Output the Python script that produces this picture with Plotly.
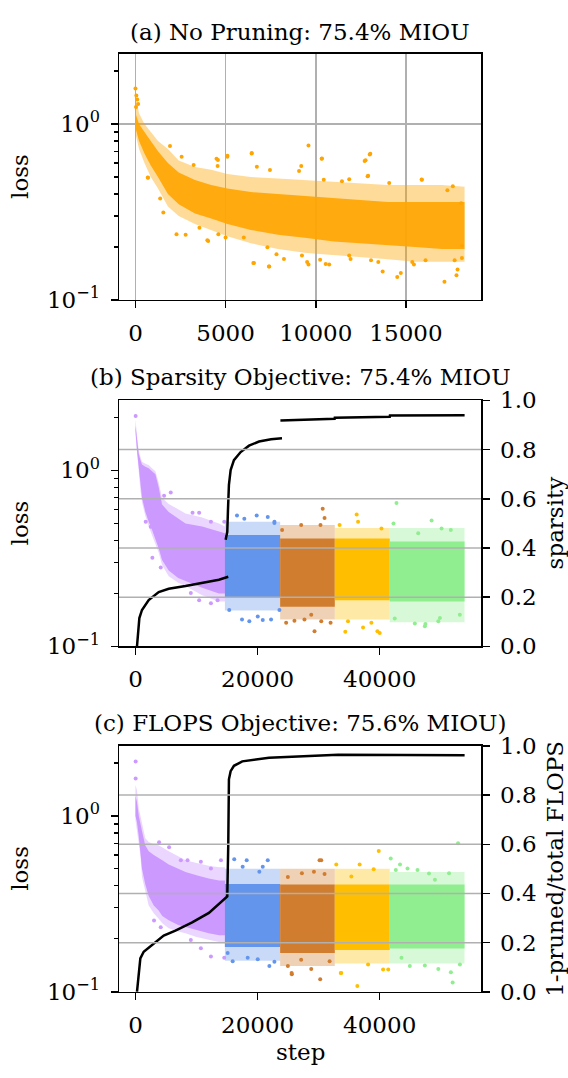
import plotly.graph_objects as go

W, H = 568, 1078
FONT = "DejaVu Serif"
FS = 23

# ------------------------------------------------------------------ data
TITLES = ["(a) No Pruning: 75.4% MIOU",
          "(b) Sparsity Objective: 75.4% MIOU",
          "(c) FLOPS Objective: 75.6% MIOU)"]
SEG_COLORS = ["#CC99FF", "#6495ED", "#D07D2F", "#FFBF00", "#90EE90"]
ORANGE = "#FFA500"

LOSS_TICKS = [0.1, 1]
LOSS_TICKTEXT = ["10<sup>\u22121</sup>", "10<sup>0</sup>"]
LOSS_MINOR = [0.2, 0.3, 0.4, 0.5, 0.6, 0.7, 0.8, 0.9, 2]
A_XTICKS = [0, 5000, 10000, 15000]
BC_XTICKS = [0, 20000, 40000]
FRAC_TICKS = [0.0, 0.2, 0.4, 0.6, 0.8, 1.0]
FRAC_GRID = [0.2, 0.4, 0.6, 0.8]

# (a) no pruning: loss cloud (dense core and sparse fringe envelopes)
A_STEP = [0, 200, 500, 850, 1250, 1800, 2400, 3300, 4200, 5100, 6400, 7900,
          9500, 11000, 12500, 14000, 15500, 17000, 18250]
A_CORE_HI = [1.15, 1.00, 0.90, 0.80, 0.70, 0.60, 0.53, 0.48, 0.45, 0.43, 0.41,
             0.40, 0.39, 0.38, 0.37, 0.36, 0.36, 0.36, 0.36]
A_CORE_LO = [0.95, 0.80, 0.68, 0.58, 0.50, 0.40, 0.35, 0.31, 0.29, 0.27, 0.25,
             0.235, 0.225, 0.215, 0.21, 0.205, 0.20, 0.195, 0.195]
A_FRNG_HI = [1.45, 1.15, 1.00, 0.90, 0.80, 0.72, 0.62, 0.57, 0.55, 0.52, 0.50,
             0.49, 0.48, 0.47, 0.46, 0.45, 0.45, 0.45, 0.44]
A_FRNG_LO = [0.88, 0.72, 0.60, 0.50, 0.43, 0.34, 0.30, 0.27, 0.25, 0.23, 0.21,
             0.195, 0.185, 0.18, 0.175, 0.17, 0.165, 0.165, 0.165]
A_OUT_STEP = [0, 50, 100, 150, 30, 4496, 5100, 6451, 9596, 10342, 12761, 13023,
              12902, 7459, 6733, 9072, 9193, 10443, 11451, 11854, 15886, 17600,
              14072, 4556, 3226, 685, 1371, 2278, 4032, 3548, 7419, 6572, 9596,
              10241, 10745, 13709, 14516, 14717, 17136, 17802, 17862, 18104,
              17700, 15443, 16088, 13064, 13467, 11854, 9233, 7822, 7318, 5000,
              4597, 6008, 17297, 18063, 18104, 1915, 2562, 4575, 5095, 6444,
              2784, 1547, 695, 3987, 6537, 7404, 10325, 12710, 12990, 12875,
              15870, 8235, 9520, 10550, 11930, 15350]
A_OUT_LOSS = [1.59, 1.45, 1.38, 1.30, 1.25, 0.634, 0.661, 0.684, 0.755, 0.636,
              0.623, 0.678, 0.508, 0.548, 0.572, 0.541, 0.577, 0.482, 0.472,
              0.486, 0.482, 0.443, 0.462, 0.577, 0.584, 0.497, 0.377, 0.236,
              0.216, 0.257, 0.155, 0.162, 0.159, 0.169, 0.159, 0.145, 0.135,
              0.142, 0.127, 0.138, 0.149, 0.173, 0.168, 0.159, 0.168, 0.168,
              0.164, 0.179, 0.179, 0.182, 0.199, 0.226, 0.236, 0.226, 0.42,
              0.354, 0.203, 0.749, 0.651, 0.625, 0.651, 0.68, 0.235, 0.314,
              0.495, 0.218, 0.162, 0.155, 0.635, 0.617, 0.671, 0.505, 0.484,
              0.171, 0.164, 0.16, 0.171, 0.164]

# pruning segments (shared step boundaries for b and c)
SEG_EDGES = [0, 14650, 23700, 32650, 41650, 53900]

# (b) sparsity objective: first (purple) segment envelopes
B1_STEP = [0, 250, 530, 800, 1070, 1620, 2170, 2710, 3270, 3810, 4360, 5450,
           7000, 8200, 10930, 13670, 14650]
B1_FRNG_HI = [1.95, 1.58, 1.30, 1.20, 1.12, 1.09, 1.075, 1.03, 0.99, 0.85,
              0.70, 0.645, 0.60, 0.57, 0.54, 0.50, 0.48]
B1_FRNG_LO = [1.60, 1.22, 1.00, 0.78, 0.66, 0.55, 0.48, 0.43, 0.38, 0.34,
              0.29, 0.25, 0.23, 0.22, 0.195, 0.18, 0.18]
B1_CORE_HI = [1.80, 1.50, 1.25, 1.15, 1.08, 1.05, 1.03, 0.99, 0.95, 0.80,
              0.64, 0.58, 0.53, 0.50, 0.48, 0.45, 0.44]
B1_CORE_LO = [1.70, 1.30, 1.05, 0.83, 0.70, 0.58, 0.51, 0.46, 0.41, 0.36,
              0.31, 0.27, 0.245, 0.235, 0.215, 0.20, 0.20]
# later segments (blue, brown, yellow, green)
B_CORE_HI = [0.43, 0.41, 0.41, 0.395]
B_CORE_LO = [0.19, 0.168, 0.183, 0.18]
B_FRNG_HI = [0.51, 0.49, 0.47, 0.47]
B_FRNG_LO = [0.16, 0.142, 0.142, 0.137]
B_OUT_STEP = [30, 5780, 4690, 9350, 10430, 1680, 2500, 10430, 12360, 13450,
              9070, 4140, 2770, 14540, 12360,
              16630, 17830, 19860, 21670, 22760, 17450, 18650, 20850, 22210,
              20030, 15360, 23580, 22760,
              30670, 30970, 24020, 27140, 30310, 29330, 24680, 26040, 27680,
              30430, 31960, 28790,
              36230, 36460, 33440, 40290, 34370, 37280, 39630, 40010, 34810,
              38640,
              42750, 42260, 48500, 50140, 46310, 47400, 45760, 49600, 42470,
              51650, 53130, 49870, 47490]
B_OUT_LOSS = [2.04, 0.748, 0.717, 0.575, 0.575, 0.51, 0.478, 0.183, 0.176,
              0.183, 0.201, 0.281, 0.319, 0.51, 0.51,
              0.555, 0.532, 0.555, 0.543, 0.51, 0.142, 0.139, 0.141, 0.142,
              0.148, 0.161, 0.161, 0.503,
              0.605, 0.536, 0.458, 0.489, 0.489, 0.122, 0.136, 0.140, 0.142,
              0.139, 0.136, 0.151,
              0.562, 0.51, 0.49, 0.468, 0.121, 0.128, 0.122, 0.119, 0.139,
              0.136,
              0.653, 0.50, 0.52, 0.468, 0.44, 0.13, 0.135, 0.139, 0.144,
              0.458, 0.151, 0.145, 0.134]
B_OUT_SEG = [0] * 15 + [1] * 13 + [2] * 12 + [3] * 10 + [4] * 13
# sparsity curve (None = break between pruning stages)
B_SP_STEP = [250, 410, 640, 1070, 2170, 3810, 5450, 8200, 10930, 13670, 15200,
             None, 14770, 15040, 15150, 15310, 15590, 16130, 17230, 18600,
             20240, 21610, 22210, 24000, None, 23740, 32620, 32650, 41650,
             41680, 53910]
B_SP_VAL = [0.0, 0.062, 0.115, 0.148, 0.188, 0.221, 0.234, 0.245, 0.257,
            0.271, 0.283, None, 0.433, 0.466, 0.552, 0.657, 0.717, 0.757, 0.79,
            0.816, 0.833, 0.84, 0.842, 0.846, None, 0.918, 0.925, 0.93, 0.934,
            0.939, 0.94]

# (c) FLOPS objective
C1_STEP = [0, 250, 550, 800, 1070, 1600, 2170, 3000, 3800, 4400, 5450, 7000,
           8200, 10000, 12000, 13700, 14650]
C1_FRNG_HI = [1.50, 1.40, 1.10, 1.00, 0.91, 0.75, 0.71, 0.69, 0.68, 0.66,
              0.63, 0.59, 0.56, 0.54, 0.52, 0.51, 0.51]
C1_FRNG_LO = [0.95, 0.85, 0.70, 0.60, 0.45, 0.37, 0.31, 0.28, 0.26, 0.245,
              0.23, 0.22, 0.215, 0.205, 0.198, 0.192, 0.19]
C1_CORE_HI = [1.30, 1.20, 1.00, 0.90, 0.82, 0.68, 0.63, 0.60, 0.58, 0.56,
              0.53, 0.50, 0.48, 0.46, 0.44, 0.43, 0.43]
C1_CORE_LO = [1.00, 0.92, 0.76, 0.66, 0.50, 0.41, 0.35, 0.31, 0.29, 0.27,
              0.255, 0.24, 0.235, 0.225, 0.215, 0.21, 0.21]
C_CORE_HI = [0.41, 0.407, 0.407, 0.407]
C_CORE_LO = [0.18, 0.166, 0.173, 0.176]
C_FRNG_HI = [0.50, 0.50, 0.50, 0.48]
C_FRNG_LO = [0.15, 0.14, 0.145, 0.145]
C_OUT_STEP = [30, 30, 3870, 5510, 7430, 8530, 10710, 12360, 14000, 12360,
              14540, 9070, 10710, 4140, 3040,
              16180, 18220, 21670, 20850, 20290, 17560, 15920, 18380, 20030,
              21930, 22760, 15100,
              30150, 30430, 29230, 27260, 24960, 30970, 25610, 30260, 28790,
              24960, 31800, 27140, 25580,
              39850, 32890, 36720, 39020, 35360, 36340, 33710, 40560, 41400,
              38100, 33620,
              41810, 42640, 44560, 46200, 49050, 44940, 47400, 49600, 43570,
              52840, 51660, 51950, 53140, 51360, 48080, 43330]
C_OUT_LOSS = [2.04, 1.63, 0.708, 0.664, 0.56, 0.56, 0.548, 0.503, 0.56, 0.159,
              0.156, 0.197, 0.177, 0.233, 0.254,
              0.567, 0.56, 0.56, 0.514, 0.482, 0.514, 0.149, 0.156, 0.153,
              0.14, 0.148, 0.166,
              0.56, 0.56, 0.482, 0.472, 0.449, 0.467, 0.126, 0.118, 0.135,
              0.14, 0.149, 0.152, 0.128,
              0.631, 0.53, 0.53, 0.497, 0.452, 0.108, 0.128, 0.134, 0.134,
              0.143, 0.128,
              0.572, 0.493, 0.503, 0.493, 0.434, 0.14, 0.141, 0.135, 0.156,
              0.70, 0.129, 0.113, 0.143, 0.472, 0.47, 0.53]
C_OUT_SEG = [0] * 15 + [1] * 12 + [2] * 13 + [3] * 11 + [4] * 16
C_FL_STEP = [250, 530, 800, 1350, 2710, 4630, 6550, 9290, 12030, 14770, 15040,
             15200, 15310, 15590, 16130, 17500, 19700, 21880, 33170, 50470,
             53910]
C_FL_VAL = [0.0, 0.07, 0.136, 0.163, 0.192, 0.229, 0.249, 0.282, 0.321, 0.381,
            0.388, 0.599, 0.864, 0.897, 0.919, 0.937, 0.946, 0.952, 0.964,
            0.964, 0.962]

A_XRANGE = [-912, 19162]
BC_XRANGE = [-2695, 56595]
LOG_RANGE = [-1, 0.398]

# ------------------------------------------------------------------ helpers
fig = go.Figure()


def band(xs, lo, hi, color, opacity, xa, ya):
    fig.add_trace(go.Scatter(
        x=list(xs) + list(xs)[::-1], y=list(hi) + list(lo)[::-1],
        mode="lines", fill="toself", fillcolor=color, opacity=opacity,
        line=dict(width=0, color=color), hoverinfo="skip",
        showlegend=False, xaxis=xa, yaxis=ya))


def dots(xs, ys, color, xa, ya):
    fig.add_trace(go.Scatter(
        x=xs, y=ys, mode="markers", showlegend=False, xaxis=xa, yaxis=ya,
        marker=dict(size=4, color=color, line=dict(width=0))))


# ------------------------------------------------------------------ panel a
band(A_STEP, A_FRNG_LO, A_FRNG_HI, ORANGE, 0.4, "x", "y")
band(A_STEP, A_CORE_LO, A_CORE_HI, ORANGE, 0.9, "x", "y")
dots(A_OUT_STEP, A_OUT_LOSS, ORANGE, "x", "y")


def pruned_panel(first, core_hi, core_lo, frng_hi, frng_lo, out_s, out_l,
                 out_seg, curve_s, curve_v, xa, ya, ya2):
    s1, f_hi, f_lo, c_hi, c_lo = first
    band(s1, f_lo, f_hi, SEG_COLORS[0], 0.4, xa, ya)
    band(s1, c_lo, c_hi, SEG_COLORS[0], 1.0, xa, ya)
    for i in range(4):
        xs = [SEG_EDGES[i + 1], SEG_EDGES[i + 2]]
        band(xs, [frng_lo[i]] * 2, [frng_hi[i]] * 2, SEG_COLORS[i + 1], 0.35,
             xa, ya)
        band(xs, [core_lo[i]] * 2, [core_hi[i]] * 2, SEG_COLORS[i + 1], 1.0,
             xa, ya)
    for k in range(5):
        xs = [s for s, g in zip(out_s, out_seg) if g == k]
        ys = [v for v, g in zip(out_l, out_seg) if g == k]
        dots(xs, ys, SEG_COLORS[k], xa, ya)
    fig.add_trace(go.Scatter(
        x=curve_s, y=curve_v, mode="lines", connectgaps=False,
        line=dict(color="black", width=2.5), showlegend=False,
        xaxis=xa, yaxis=ya2))


pruned_panel((B1_STEP, B1_FRNG_HI, B1_FRNG_LO, B1_CORE_HI, B1_CORE_LO),
             B_CORE_HI, B_CORE_LO, B_FRNG_HI, B_FRNG_LO,
             B_OUT_STEP, B_OUT_LOSS, B_OUT_SEG, B_SP_STEP, B_SP_VAL,
             "x2", "y2", "y3")
pruned_panel((C1_STEP, C1_FRNG_HI, C1_FRNG_LO, C1_CORE_HI, C1_CORE_LO),
             C_CORE_HI, C_CORE_LO, C_FRNG_HI, C_FRNG_LO,
             C_OUT_STEP, C_OUT_LOSS, C_OUT_SEG, C_FL_STEP, C_FL_VAL,
             "x3", "y4", "y5")

# ------------------------------------------------------------------ layout
X0, X1 = 119 / W, 481 / W
DOM = {"a": [1 - 294 / H, 1 - 42 / H],
       "b": [1 - 649 / H, 1 - 397 / H],
       "c": [1 - 1003 / H, 1 - 751 / H]}
GRID = "#b0b0b0"
tickfont = dict(family=FONT, size=FS, color="black")

common_ax = dict(showline=True, linecolor="black", linewidth=1.5,
                 ticks="outside", ticklen=7, tickwidth=1.5, tickcolor="black",
                 zeroline=False, tickfont=tickfont)


def xax(rng, ticks, anchor, grid):
    return dict(domain=[X0, X1], range=rng, tickvals=ticks, tickformat="d",
                anchor=anchor, mirror=True, showgrid=grid, gridcolor=GRID,
                gridwidth=1.5, ticklabelstandoff=5, **common_ax)


def yax(dom, anchor, grid):
    return dict(domain=dom, type="log", range=LOG_RANGE, tickvals=LOSS_TICKS,
                ticktext=LOSS_TICKTEXT, anchor=anchor, mirror=True,
                showgrid=grid, gridcolor=GRID, gridwidth=1.5,
                ticklabelstandoff=6,
                minor=dict(tickvals=LOSS_MINOR, ticks="outside", ticklen=4,
                           tickwidth=1.2, tickcolor="black", showgrid=False),
                **common_ax)


def y2ax(over, anchor):
    return dict(overlaying=over, side="right", anchor=anchor, range=[0, 1],
                tickvals=FRAC_TICKS, tickformat=".1f", showgrid=False,
                ticklabelstandoff=6, **common_ax)


fig.update_layout(
    width=W, height=H, autosize=False,
    margin=dict(l=0, r=0, t=0, b=0),
    paper_bgcolor="white", plot_bgcolor="white",
    font=dict(family=FONT, size=FS, color="black"),
    showlegend=False,
    xaxis=xax(A_XRANGE, A_XTICKS, "y", True),
    yaxis=yax(DOM["a"], "x", True),
    xaxis2=xax(BC_XRANGE, BC_XTICKS, "y2", False),
    yaxis2=yax(DOM["b"], "x2", False),
    yaxis3=y2ax("y2", "x2"),
    xaxis3=xax(BC_XRANGE, BC_XTICKS, "y4", False),
    yaxis4=yax(DOM["c"], "x3", False),
    yaxis5=y2ax("y4", "x3"),
)

shapes = []
for xd, yr in (("x2 domain", "y3"), ("x3 domain", "y5")):
    for v in FRAC_GRID:
        shapes.append(dict(type="line", xref=xd, x0=0, x1=1, yref=yr, y0=v,
                           y1=v, line=dict(color=GRID, width=1.5),
                           layer="above"))
fig.update_layout(shapes=shapes)

ann = []
cx = (X0 + X1) / 2
for t, py in zip(TITLES, [19, 373, 728]):
    ann.append(dict(text=t, x=cx, y=1 - py / H, xref="paper", yref="paper",
                    showarrow=False, xanchor="center", yanchor="middle",
                    font=dict(family=FONT, size=FS)))
for py in [168, 523, 877]:
    ann.append(dict(text="loss", x=20 / W, y=1 - py / H, xref="paper",
                    yref="paper", showarrow=False, textangle=-90,
                    xanchor="center", yanchor="middle",
                    font=dict(family=FONT, size=FS)))
ann.append(dict(text="sparsity", x=555 / W, y=1 - 523 / H, xref="paper",
                yref="paper", showarrow=False, textangle=-90,
                xanchor="center", yanchor="middle",
                font=dict(family=FONT, size=FS)))
ann.append(dict(text="1-pruned/total FLOPS", x=555 / W, y=1 - 877 / H,
                xref="paper", yref="paper", showarrow=False, textangle=-90,
                xanchor="center", yanchor="middle",
                font=dict(family=FONT, size=FS)))
ann.append(dict(text="step", x=cx, y=1 - 1065 / H, xref="paper",
                yref="paper", showarrow=False, xanchor="center",
                yanchor="middle", font=dict(family=FONT, size=FS)))
fig.update_layout(annotations=ann)

fig.write_html("out.html",
               config={"displayModeBar": False, "staticPlot": True},
               post_script="document.body.style.margin='0';"
                           "document.body.style.overflow='hidden';")
